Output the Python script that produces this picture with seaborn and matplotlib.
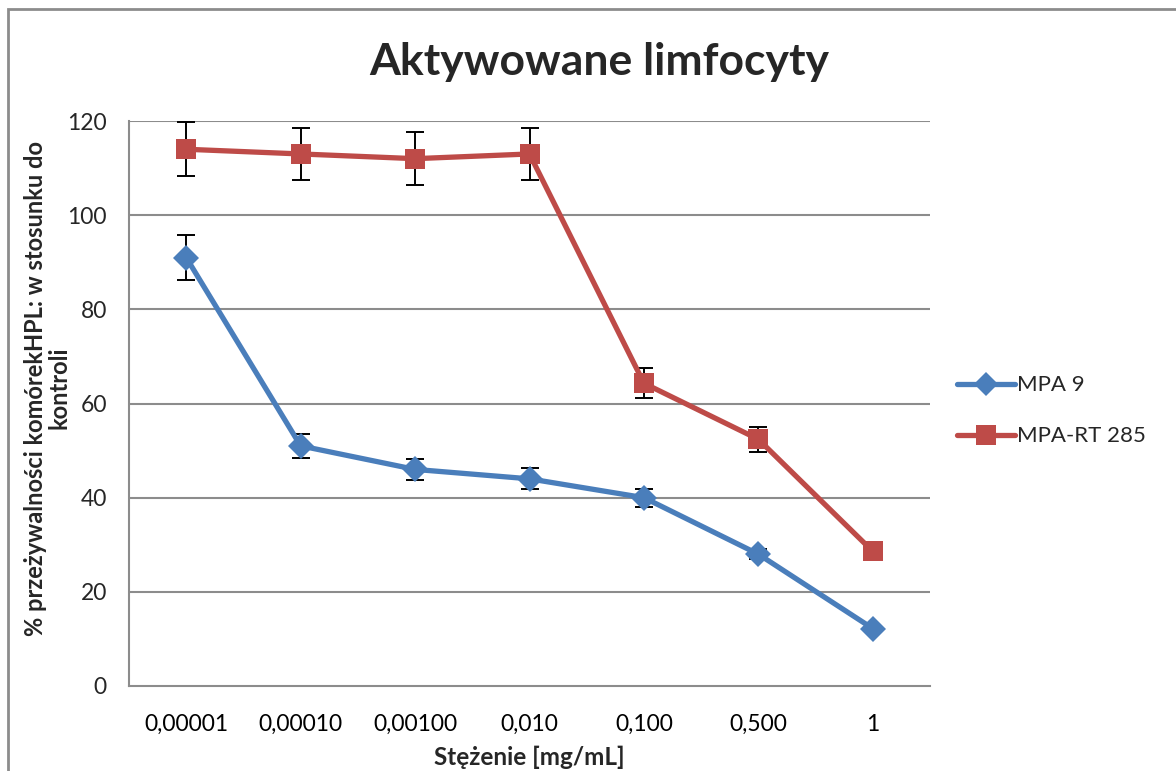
import matplotlib
matplotlib.use("Agg")
import matplotlib.pyplot as plt
from matplotlib.patches import Rectangle
from matplotlib.lines import Line2D
import numpy as np
import pandas as pd
import seaborn as sns

# Concentrations (category labels) and survival values
concentrations = ["0,00001", "0,00010", "0,00100", "0,010", "0,100", "0,500", "1"]
mpa9 = [91.0, 51.0, 46.0, 44.0, 40.0, 28.0, 12.2]
mpa9_err = [4.7, 2.5, 2.3, 2.2, 1.9, 1.0, 0.4]
mpart285 = [114.0, 113.0, 112.0, 113.0, 64.3, 52.4, 28.6]
mpart285_err = [5.7, 5.6, 5.6, 5.6, 3.2, 2.6, 0.5]
series_names = ["MPA 9", "MPA-RT 285"]
colors = {"MPA 9": "#4A7EBB", "MPA-RT 285": "#BE4B48"}
markers = {"MPA 9": "D", "MPA-RT 285": "s"}
marker_sizes = {"D": 13, "s": 15}

sns.set_theme(style="white")
plt.rcParams["font.family"] = ["Lato", "DejaVu Sans"]

pos = np.arange(len(concentrations))
df = pd.DataFrame({
    "pos": np.concatenate([pos, pos]),
    "value": mpa9 + mpart285,
    "err": mpa9_err + mpart285_err,
    "series": [series_names[0]] * len(pos) + [series_names[1]] * len(pos),
})

fig = plt.figure(figsize=(11.76, 7.71), dpi=100)
ax = fig.add_axes([129 / 1176, 1 - 686 / 771, (930 - 129) / 1176, (686 - 121) / 771])

grid_color = "#8C8C8C"
for yv in range(20, 121, 20):
    ax.axhline(yv, color=grid_color, lw=1.5, zorder=0)

# error bars first so markers sit on top of them
for name in series_names:
    sub = df[df["series"] == name]
    ax.errorbar(sub["pos"], sub["value"], yerr=sub["err"], fmt="none",
                ecolor="black", elinewidth=1.4, capsize=6.5, capthick=1.4, zorder=2)

sns.lineplot(data=df, x="pos", y="value", hue="series", style="series",
             palette=colors, markers=markers, dashes=False, lw=3.8,
             markersize=15, markeredgewidth=0, ax=ax, legend=False, zorder=3)
for ln in ax.lines:
    m = ln.get_marker()
    if m in marker_sizes:
        ln.set_markersize(marker_sizes[m])

tick_fs = 16.5
ax.set_xlim(-0.5, len(concentrations) - 0.5)
ax.set_ylim(0, 120)
ax.set_yticks(range(0, 121, 20))
ax.set_xticks(pos)
ax.set_xticklabels(concentrations)
ax.set_xticks(np.arange(-0.5, len(concentrations), 1.0), minor=True)
ax.tick_params(axis="x", which="major", length=0, pad=20, labelsize=tick_fs, colors="black")
ax.tick_params(axis="x", which="minor", length=7, width=1.2, color=grid_color, direction="out")
ax.tick_params(axis="y", which="major", length=6, width=1.2, color=grid_color,
               direction="out", labelsize=tick_fs, pad=10)

for side in ["top", "right"]:
    ax.spines[side].set_visible(False)
for side in ["left", "bottom"]:
    ax.spines[side].set_color(grid_color)
    ax.spines[side].set_linewidth(1.5)

ax.set_xlabel("")
ax.set_ylabel("")
fig.text(529 / 1176, 1 - 757 / 771, "Stężenie [mg/mL]", ha="center", va="center",
         fontsize=17.5, fontweight="bold")
fig.text(47 / 1176, 1 - 388 / 771,
         "% przeżywalności komórekHPL: w stosunku do\nkontroli",
         rotation=90, ha="center", va="center", multialignment="center",
         fontsize=17, fontweight="bold", linespacing=1.05)

fig.text(599 / 1176, 1 - 62 / 771, "Aktywowane limfocyty", ha="center", va="center",
         fontsize=32, fontweight="bold")

handles = [Line2D([], [], color=colors[n], marker=markers[n], lw=3.8,
                  markersize=marker_sizes[markers[n]] - 1, markeredgewidth=0)
           for n in series_names]
fig.legend(handles, series_names, loc="center left", bbox_to_anchor=(0.797, 0.467),
           frameon=False, fontsize=16, handlelength=2.6, handletextpad=0.1,
           labelspacing=1.4)

# outer chart border
fig.patches.append(Rectangle((8 / 1176, -0.1), 1.2, 1 - 9 / 771 + 0.1,
                             transform=fig.transFigure, fill=False,
                             edgecolor="#8C8C8C", lw=2.0))

fig.savefig("out.png", dpi=100)
